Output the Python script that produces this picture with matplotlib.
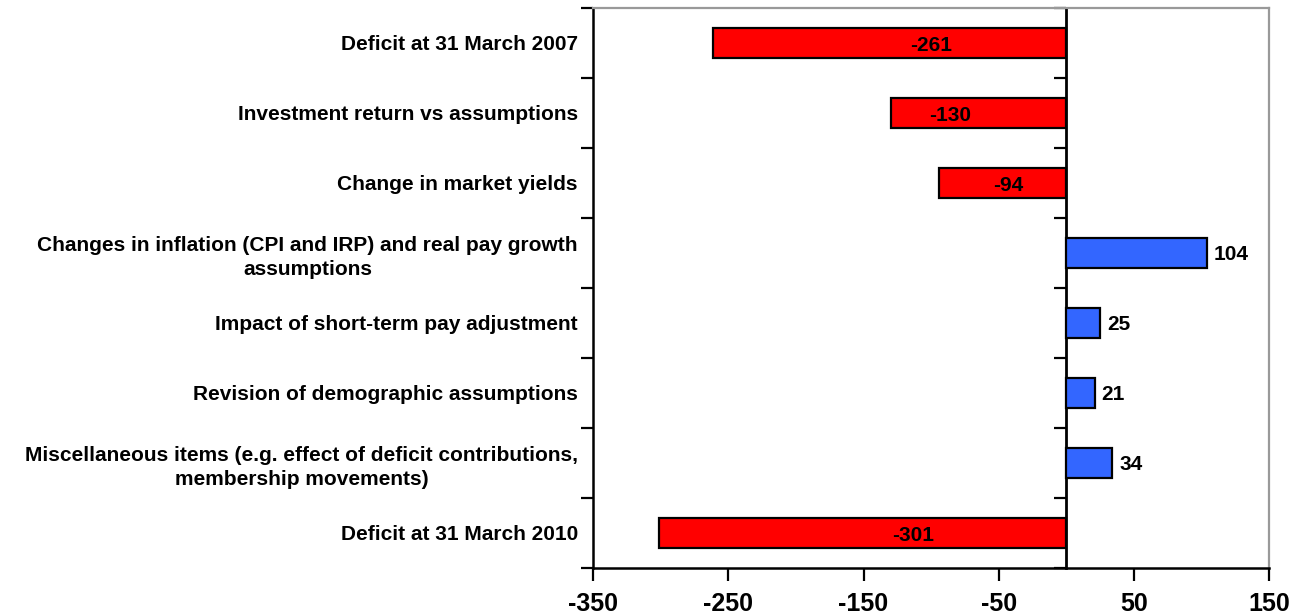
import numpy as np
import matplotlib.pyplot as plt
from matplotlib.ticker import FixedLocator, NullFormatter

# --- data ---
categories = [
    "Deficit at 31 March 2007",
    "Investment return vs assumptions",
    "Change in market yields",
    "Changes in inflation (CPI and IRP) and real pay growth\nassumptions",
    "Impact of short-term pay adjustment",
    "Revision of demographic assumptions",
    "Miscellaneous items (e.g. effect of deficit contributions,\nmembership movements)",
    "Deficit at 31 March 2010",
]
values = [-261, -130, -94, 104, 25, 21, 34, -301]
# where the labels of the negative bars sit (inside the bar, data units)
neg_label_x = [-100, -86, -43, -113]
x_ticks = [-350, -250, -150, -50, 50, 150]

plt.rcParams['font.family'] = ['Liberation Sans', 'DejaVu Sans']

fig = plt.figure(figsize=(12.98, 6.14), dpi=100)
ax = fig.add_axes([0.457, 0.075, 0.5207, 0.912])

n = len(categories)
y = np.arange(n)
colors = ["#FF0000" if v < 0 else "#3366FF" for v in values]
ax.barh(y, values, height=0.42, color=colors, edgecolor="black", linewidth=1.6, zorder=3)

ax.set_xlim(x_ticks[0], x_ticks[-1])
ax.set_ylim(n - 0.5, -0.5)

# value labels
neg_iter = iter(neg_label_x)
for yi, v in zip(y, values):
    if v < 0:
        ax.text(next(neg_iter), yi + 0.03, f"{v}", ha="center", va="center",
                fontsize=15, fontweight="bold", zorder=4)
    else:
        ax.annotate(f"{v}", (v, yi), xytext=(5, -1), textcoords="offset points",
                    ha="left", va="center", fontsize=15, fontweight="bold", zorder=4)

# x axis
ax.set_xticks(x_ticks)
ax.set_xticklabels([str(t) for t in x_ticks], fontsize=18, fontweight="bold")
ax.tick_params(axis="x", direction="out", length=9, width=1.6, pad=8)

# y axis: ticks at category boundaries, labels at centres
bounds = np.arange(n + 1) - 0.5
ax.yaxis.set_major_locator(FixedLocator(bounds))
ax.yaxis.set_major_formatter(NullFormatter())
ax.yaxis.set_minor_locator(FixedLocator(y))
ax.set_yticklabels(categories, minor=True, fontsize=15, fontweight="bold",
                   multialignment="center", linespacing=1.35)
ax.tick_params(axis="y", which="major", direction="out", length=9, width=1.6)
ax.tick_params(axis="y", which="minor", length=0, pad=11)

for s in ["left", "bottom"]:
    ax.spines[s].set_linewidth(1.8)
    ax.spines[s].set_color("black")
for s in ["top", "right"]:
    ax.spines[s].set_linewidth(1.6)
    ax.spines[s].set_color("#999999")

# zero line with its own boundary ticks pointing left
zero_pos = (0 - x_ticks[0]) / (x_ticks[-1] - x_ticks[0])
sec = ax.secondary_yaxis(zero_pos)
sec.set_yticks(bounds)
sec.set_yticklabels([])
sec.tick_params(direction="in", length=9, width=1.6)
for sp in sec.spines.values():
    sp.set_linewidth(2)
    sp.set_color("black")
    sp.set_zorder(5)

fig.savefig("out.png", dpi=100)
